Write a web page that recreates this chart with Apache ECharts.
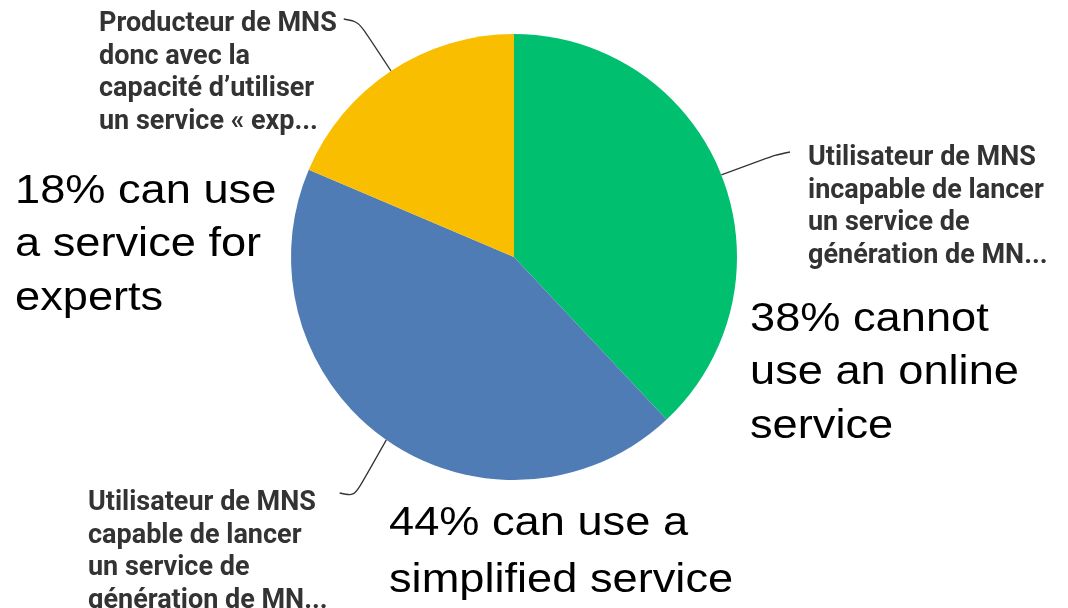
<!DOCTYPE html>
<html><head><meta charset="utf-8">
<script src="https://cdn.jsdelivr.net/npm/echarts@6/dist/echarts.min.js"></script>
<style>html,body{margin:0;padding:0;background:#fff}#c{width:1068px;height:608px}</style>
</head><body><div id="c"></div>
<script>
// ---- data ----
const categories = [
  'Utilisateur de MNS\nincapable de lancer\nun service de\ngénération de MN...',
  'Utilisateur de MNS\ncapable de lancer\nun service de\ngénération de MN...',
  'Producteur de MNS\ndonc avec la\ncapacité d’utiliser\nun service « exp...'
];
const shares = [38.0, 43.4, 18.6];
const annotations = [
  '38% cannot\nuse an online\nservice',
  '44% can use a\nsimplified service',
  '18% can use\na service for\nexperts'
];

// ---- styles / layout ----
const colors = ['#00BF6F', '#507CB6', '#F9BE00'];
// label top-left, side where the leader attaches, attach offsets
const labelPos = [
  { x: 808, y: 142, side: 'left',  dx: 18, dy: 10 },
  { x: 88,  y: 487, side: 'right', dx: 12, dy: 6 },
  { x: 99,  y: 8,   side: 'right', dx: 7,  dy: 11 }
];
const annotationPos = [[750, 293, 53.5], [389, 495, 57], [15, 165, 53.5]];

const chart = echarts.init(document.getElementById('c'), null, { renderer: 'canvas' });
chart.setOption({
  animation: false,
  backgroundColor: '#ffffff',
  series: [{
    type: 'pie',
    center: [514, 257],
    radius: 223,
    startAngle: 90,
    clockwise: true,
    avoidLabelOverlap: false,
    itemStyle: { borderWidth: 0 },
    emphasis: { disabled: true },
    label: {
      show: true,
      position: 'outside',
      formatter: '{b}',
      fontFamily: 'Roboto',
      fontWeight: 'bold',
      fontSize: 27,
      lineHeight: 32.5,
      color: '#333333'
    },
    labelLine: {
      show: true,
      length: 20,
      length2: 15,
      smooth: 0.3,
      lineStyle: { color: '#333333', width: 1.3 }
    },
    labelLayout: function (p) {
      const pos = labelPos[p.dataIndex];
      const w = p.labelRect.width;
      const a = p.labelLinePoints ? p.labelLinePoints[0] : null;
      const out = { x: pos.x, y: pos.y, align: 'left', verticalAlign: 'top' };
      if (a) {
        if (pos.side === 'left') {
          const ex = pos.x - pos.dx, ey = pos.y + pos.dy;
          out.labelLinePoints = [a, [ex - 15, ey + 3], [ex, ey]];
        } else {
          const ex = pos.x + w + pos.dx, ey = pos.y + pos.dy;
          out.labelLinePoints = [a, [ex + 15, ey + 3], [ex, ey]];
        }
      }
      return out;
    },
    data: categories.map((name, i) => ({
      name: name,
      value: shares[i],
      itemStyle: { color: colors[i] }
    }))
  }],
  graphic: annotations.map((t, i) => ({
    type: 'text',
    x: annotationPos[i][0],
    y: annotationPos[i][1],
    scaleX: 1.13,
    silent: true,
    style: {
      text: t,
      fontFamily: '"Liberation Sans", Arial, sans-serif',
      fontSize: 40,
      lineHeight: annotationPos[i][2],
      fill: '#000000',
      align: 'left',
      verticalAlign: 'top'
    }
  }))
});
</script>
</body></html>
